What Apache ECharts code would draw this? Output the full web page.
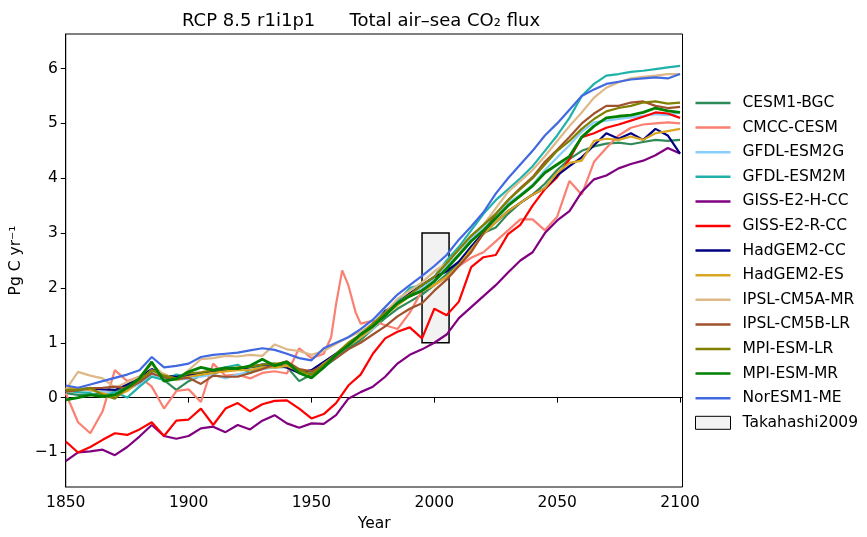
<!DOCTYPE html>
<html><head><meta charset="utf-8">
<script src="https://cdn.jsdelivr.net/npm/echarts@6/dist/echarts.min.js"></script>
<style>html,body{margin:0;padding:0;background:#fff}#c{width:867px;height:537px}</style>
</head><body><div id="c"></div>
<script>
const years = [1850,1855,1860,1865,1870,1875,1880,1885,1890,1895,1900,1905,1910,1915,1920,1925,1930,1935,1940,1945,1950,1955,1960,1965,1970,1975,1980,1985,1990,1995,2000,2005,2010,2015,2020,2025,2030,2035,2040,2045,2050,2055,2060,2065,2070,2075,2080,2085,2090,2095,2100];

const cesm1bgc = [0.08,0.05,0.05,0.08,0.10,0.20,0.30,0.45,0.32,0.14,
 0.30,0.40,0.44,0.50,0.52,0.55,0.58,0.55,0.56,0.30,
 0.42,0.55,0.72,0.90,1.05,1.25,1.45,1.62,1.75,1.88,
 2.05,2.25,2.45,2.75,3.00,3.10,3.35,3.55,3.70,3.90,
 4.15,4.35,4.50,4.58,4.63,4.65,4.62,4.66,4.70,4.68,4.70];
const cmccCesm = [0.08,-0.45,-0.65,-0.25,0.50,0.30,0.38,0.20,-0.20,0.12,
 0.15,-0.08,0.62,0.40,0.42,0.35,0.45,0.48,0.44,0.90,
 0.72,0.80,1.70,2.05,1.35,1.40,1.32,1.25,1.55,1.95,
 2.05,2.20,2.40,2.55,2.65,2.85,3.05,3.25,3.25,3.05,
 3.30,3.95,3.70,4.30,4.55,4.78,4.92,4.98,5.00,5.02,5.00];
const cmccExtraYears = [1958, 1962.5, 1968];
const cmccExtraValues = [1.10, 2.32, 1.55];
const gfdlEsm2g = [0.10,0.15,0.12,0.10,0.08,0.15,0.25,0.42,0.35,0.32,
 0.35,0.38,0.42,0.35,0.42,0.48,0.52,0.55,0.58,0.50,
 0.44,0.60,0.75,0.95,1.10,1.25,1.50,1.70,1.85,2.00,
 2.15,2.40,2.62,2.90,3.12,3.30,3.55,3.70,3.88,4.15,
 4.38,4.60,4.85,5.02,5.05,5.08,5.11,5.14,5.17,5.15,5.20];
const gfdlEsm2m = [0.12,0.10,0.08,0.02,0.10,0.00,0.20,0.38,0.32,0.42,
 0.38,0.42,0.50,0.55,0.60,0.44,0.60,0.62,0.55,0.48,
 0.45,0.60,0.75,0.95,1.15,1.35,1.55,1.75,2.00,2.05,
 2.20,2.50,2.75,3.05,3.35,3.60,3.80,4.00,4.22,4.50,
 4.78,5.10,5.50,5.72,5.87,5.90,5.94,5.96,5.99,6.02,6.05];
const gissE2H = [-1.16,-1.00,-0.98,-0.95,-1.05,-0.90,-0.71,-0.50,-0.70,-0.75,
 -0.70,-0.56,-0.53,-0.63,-0.50,-0.58,-0.42,-0.32,-0.47,-0.55,
 -0.47,-0.48,-0.32,-0.02,0.10,0.20,0.38,0.62,0.78,0.88,
 1.00,1.15,1.45,1.65,1.85,2.05,2.28,2.50,2.65,3.00,
 3.23,3.40,3.75,3.98,4.05,4.18,4.26,4.32,4.42,4.55,4.45];
const gissE2R = [-0.80,-1.00,-0.90,-0.77,-0.65,-0.68,-0.58,-0.45,-0.70,-0.42,
 -0.40,-0.20,-0.50,-0.20,-0.10,-0.25,-0.12,-0.06,-0.05,-0.20,
 -0.38,-0.30,-0.10,0.22,0.42,0.80,1.08,1.20,1.28,1.08,
 1.62,1.50,1.75,2.38,2.56,2.60,2.98,3.15,3.50,3.80,
 4.02,4.35,4.75,4.82,4.92,4.98,5.05,5.12,5.20,5.18,5.10];
const hadgem2cc = [0.14,0.15,0.17,0.15,0.14,0.24,0.38,0.52,0.40,0.38,
 0.41,0.44,0.48,0.50,0.52,0.56,0.60,0.60,0.55,0.45,
 0.50,0.65,0.80,0.97,1.15,1.32,1.58,1.72,1.90,2.05,
 2.20,2.30,2.48,2.75,3.00,3.20,3.40,3.55,3.70,3.82,
 4.05,4.22,4.38,4.60,4.82,4.72,4.82,4.70,4.90,4.78,4.45];
const hadgem2es = [0.20,0.16,0.14,0.08,0.02,0.12,0.30,0.50,0.43,0.32,
 0.38,0.42,0.45,0.48,0.50,0.50,0.55,0.55,0.58,0.48,
 0.42,0.62,0.78,0.95,1.10,1.28,1.50,1.68,1.85,1.95,
 2.05,2.20,2.42,2.70,2.98,3.20,3.40,3.55,3.70,3.82,
 4.10,4.28,4.32,4.68,4.72,4.70,4.76,4.70,4.82,4.86,4.90];
const ipslCm5aMr = [0.14,0.47,0.40,0.35,0.18,0.28,0.38,0.60,0.42,0.32,
 0.50,0.70,0.72,0.76,0.75,0.78,0.76,0.97,0.88,0.85,
 0.78,0.85,0.98,1.10,1.20,1.35,1.55,1.80,1.95,2.10,
 2.30,2.45,2.70,2.95,3.15,3.45,3.75,3.95,4.15,4.40,
 4.68,4.95,5.20,5.47,5.65,5.75,5.82,5.85,5.87,5.90,5.90];
const ipslCm5bLr = [0.11,0.13,0.17,0.18,0.20,0.17,0.28,0.44,0.37,0.34,
 0.36,0.25,0.40,0.38,0.38,0.45,0.52,0.60,0.66,0.52,
 0.48,0.58,0.72,0.88,1.00,1.15,1.30,1.48,1.62,1.72,
 1.95,2.15,2.40,2.65,3.00,3.35,3.60,3.82,4.02,4.30,
 4.52,4.75,5.00,5.18,5.32,5.32,5.38,5.40,5.32,5.28,5.30];
const mpiEsmLr = [0.14,0.14,0.18,0.05,-0.02,0.18,0.32,0.50,0.40,0.35,
 0.44,0.46,0.50,0.52,0.55,0.56,0.60,0.62,0.62,0.50,
 0.42,0.60,0.80,1.00,1.15,1.35,1.55,1.72,1.88,2.05,
 2.20,2.45,2.70,2.95,3.15,3.35,3.60,3.80,4.00,4.25,
 4.50,4.68,4.90,5.08,5.22,5.28,5.32,5.38,5.40,5.36,5.38];
const mpiEsmMr = [-0.04,0.00,0.05,0.02,0.05,0.18,0.35,0.65,0.30,0.34,
 0.47,0.55,0.50,0.54,0.53,0.58,0.70,0.58,0.65,0.45,
 0.36,0.55,0.78,0.95,1.15,1.30,1.50,1.72,1.85,1.95,
 2.12,2.35,2.60,2.85,3.05,3.27,3.50,3.68,3.86,4.10,
 4.25,4.40,4.75,4.95,5.10,5.13,5.15,5.20,5.28,5.23,5.20];
const norEsm1Me = [0.22,0.18,0.24,0.30,0.36,0.42,0.50,0.74,0.55,0.58,
 0.62,0.74,0.78,0.80,0.82,0.86,0.90,0.87,0.80,0.72,
 0.68,0.90,1.00,1.10,1.25,1.42,1.65,1.88,2.05,2.22,
 2.40,2.60,2.88,3.12,3.38,3.72,4.00,4.25,4.50,4.78,
 5.00,5.25,5.50,5.62,5.72,5.76,5.80,5.82,5.84,5.82,5.90];

const modelNames = ['CESM1-BGC','CMCC-CESM','GFDL-ESM2G','GFDL-ESM2M','GISS-E2-H-CC','GISS-E2-R-CC','HadGEM2-CC','HadGEM2-ES','IPSL-CM5A-MR','IPSL-CM5B-LR','MPI-ESM-LR','MPI-ESM-MR','NorESM1-ME'];
const modelColors = ['#2E8B57','#FA8072','#87CEFA','#20B2AA','#800080','#FF0000','#000080','#DAA520','#DEB887','#A0522D','#808000','#008000','#4169E1'];
const modelValues = [cesm1bgc,cmccCesm,gfdlEsm2g,gfdlEsm2m,gissE2H,gissE2R,hadgem2cc,hadgem2es,ipslCm5aMr,ipslCm5bLr,mpiEsmLr,mpiEsmMr,norEsm1Me];

const takahashiYears = [1995, 2006];
const takahashiRange = [1, 3];
const xTicks = [1850,1900,1950,2000,2050,2100];
const yTicks = [-1,0,1,2,3,4,5,6];

function pairs(xs, vs){ return xs.map((x,i)=>[x, vs[i]]); }

const FONT = 'DejaVu Sans';
const series = modelNames.map((n,i)=>{
  let data = pairs(years, modelValues[i]);
  if (n === 'CMCC-CESM') {
    data = data.concat(pairs(cmccExtraYears, cmccExtraValues)).sort((a,b)=>a[0]-b[0]);
  }
  return {
    type:'line', name:n, data:data, symbol:'none', showSymbol:false,
    lineStyle:{width: n==='MPI-ESM-MR'?2.8:2.2, color:modelColors[i]},
    itemStyle:{color:modelColors[i]}, z:3+i, animation:false
  };
});
series.push({
  type:'line', name:'Takahashi2009', data:[], z:1, animation:false,
  itemStyle:{color:'#f2f2f2', borderColor:'#000'},
  markArea:{silent:true, animation:false,
    itemStyle:{color:'#f2f2f2', borderColor:'#000', borderWidth:1.5},
    data:[[{coord:[takahashiYears[0], takahashiRange[0]]},{coord:[takahashiYears[1], takahashiRange[1]]}]]}
});

const legendData = modelNames.map((n,i)=>({name:n, icon:'path://M0,0H350V25H0Z', itemStyle:{color:modelColors[i]}}));
legendData.push({name:'Takahashi2009', icon:'rect', itemStyle:{color:'#f2f2f2', borderColor:'#000', borderWidth:1}});

const chart = echarts.init(document.getElementById('c'));
chart.setOption({
  animation:false,
  backgroundColor:'#fff',
  title:{
    text:'RCP 8.5 r1i1p1      Total air\u2013sea CO\u2082 flux',
    left:177, top:7,
    textStyle:{fontFamily:FONT, fontSize:18, fontWeight:'normal', color:'#000'}
  },
  grid:{left:62, right:184.5, top:34, bottom:49, show:true, borderColor:'#000', borderWidth:1, backgroundColor:'#fff'},
  legend:{
    orient:'vertical', left:695, top:95, padding:0,
    itemWidth:35, itemHeight:13, itemGap:8.6, symbolKeepAspect:true,
    textStyle:{fontFamily:FONT, fontSize:15.5, color:'#000', lineHeight:16, padding:[0,0,0,7]},
    data:legendData
  },
  xAxis:{
    type:'value', min:1850, max:2101,
    name:'Year', nameLocation:'middle', nameGap:29,
    nameTextStyle:{fontFamily:FONT, fontSize:15.5, color:'#000'},
    splitLine:{show:false},
    axisLine:{show:true, lineStyle:{color:'#000', width:1}},
    axisTick:{show:true, length:5, lineStyle:{color:'#000'}, customValues:xTicks},
    axisLabel:{customValues:xTicks, fontFamily:FONT, fontSize:15.5, color:'#000', margin:8,
      formatter:v=>String(v)}
  },
  yAxis:{
    type:'value', min:-1.63, max:6.63,
    name:'Pg C yr\u207B\u00B9', nameLocation:'middle', nameGap:21,
    nameTextStyle:{fontFamily:FONT, fontSize:15.5, color:'#000'},
    splitLine:{show:false},
    axisLine:{show:true, lineStyle:{color:'#000', width:1}},
    axisTick:{show:true, length:5, lineStyle:{color:'#000'}, customValues:yTicks},
    axisLabel:{customValues:yTicks, fontFamily:FONT, fontSize:15.5, color:'#000', margin:8,
      formatter:v=> v<0 ? '\u2212'+Math.abs(v) : String(v)}
  },
  series:series
});
</script></body></html>
